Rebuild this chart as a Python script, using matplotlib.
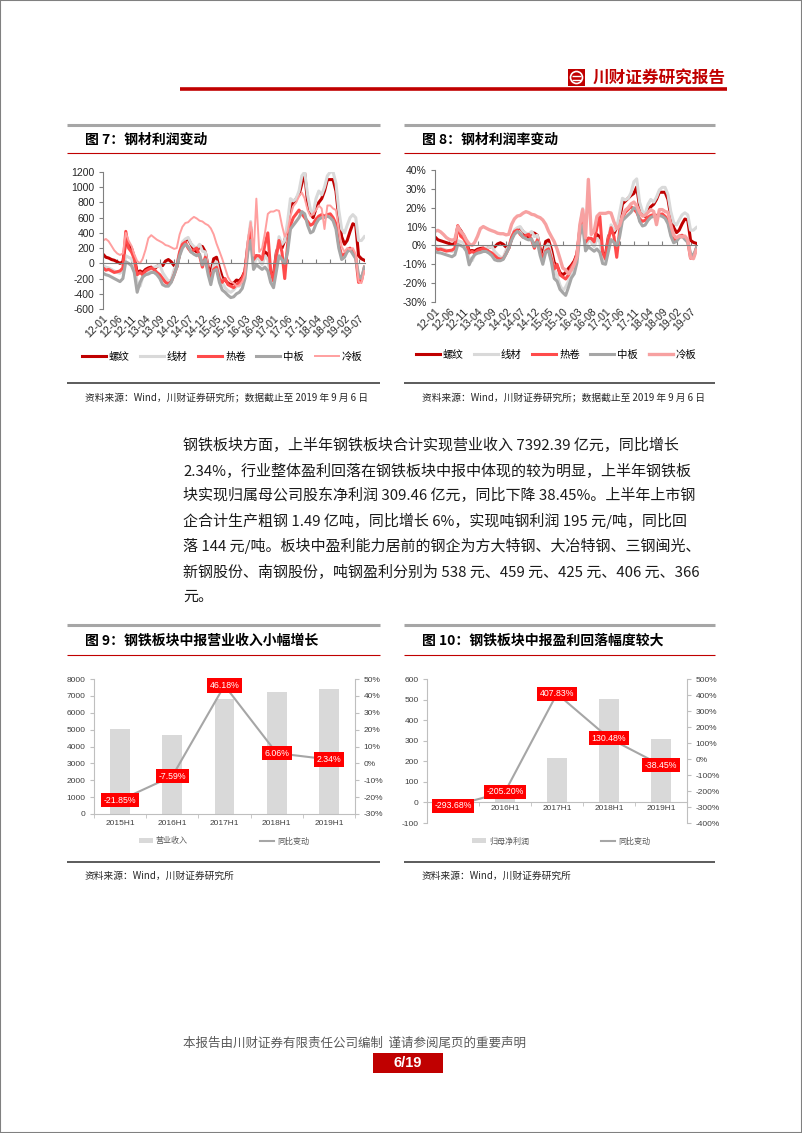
import numpy as np
import pandas as pd
import matplotlib
matplotlib.use("Agg")
import matplotlib.pyplot as plt
from matplotlib.lines import Line2D
from matplotlib.patches import Rectangle, Ellipse, Patch
from matplotlib.transforms import blended_transform_factory

plt.rcParams['font.family'] = ['Noto Sans CJK SC', 'DejaVu Sans']

W, H = 802, 1133
NUM_FONT = 'Liberation Sans'

# ======== data: monthly steel profit (yuan/t), 2012-01 .. 2019-09 ======== #
months = pd.date_range("2012-01-01", periods=93, freq="MS")
tick_labels = ["12-01", "12-06", "12-11", "13-04", "13-09", "14-02", "14-07", "14-12",
               "15-05", "15-10", "16-03", "16-08", "17-01", "17-06", "17-11", "18-04",
               "18-09", "19-02", "19-07"]
names = ["螺纹", "线材", "热卷", "中板", "冷板"]

rebar_profit = [120, 80, 70, 50, 40, 20, 0, 20, 280, 250, 200, 80,
                -120, -100, -120, -80, -60, -50, -80, -40, -20, -30, 30, 50,
                20, -30, -50, 120, 250, 300, 320, 250, 180, 150, 230, 220,
                150, -50, -120, 60, 80, -60, -180, -220, -260, -280, -260, -220,
                -230, -180, -100, 250, 480, 30, 100, 60, 40, 150, 120, -120,
                -150, 150, 250, 200, 300, 450, 750, 800, 850, 900, 1050, 1180,
                800, 650, 600, 720, 800, 850, 950, 1100, 1100, 1100, 950, 600,
                350, 250, 300, 420, 520, 500, 100, 60, 40]
wire_profit = [-30, -50, -60, -80, -100, -120, -130, -100, 100, 80, 60, -20,
               -250, -300, -180, -120, -100, -80, -50, -40, -20, -120, -180, -230,
               -220, -80, -20, 150, 280, 320, 340, 260, 220, 200, 250, 160,
               150, -100, -220, -20, 20, -150, -250, -320, -360, -380, -350, -300,
               -300, -250, -150, 250, 550, -50, 80, 50, -20, 100, 50, -200,
               -250, 100, 350, 250, 300, 550, 850, 820, 850, 950, 1150, 1200,
               900, 700, 650, 850, 950, 900, 1000, 1150, 1200, 1200, 1050, 700,
               450, 400, 500, 600, 640, 600, 300, 300, 350]
hot_profit = [-60, -90, -80, -100, -120, -110, -100, -60, 420, 200, 150, 60,
              -150, -120, -150, -100, -80, -60, -80, -120, -150, -200, -250, -270,
              -240, -150, -50, 150, 250, 280, 200, 150, 180, 200, 100, -50,
              80, -100, -200, -80, -50, -200, -250, -200, -280, -300, -320, -280,
              -250, -200, -100, 200, 450, 50, 100, 100, 50, 250, 400, -100,
              -230, 100, 300, 150, -200, 250, 500, 600, 650, 700, 650, 600,
              550, 500, 520, 580, 620, 640, 620, 640, 650, 600, 520, 250,
              100, 120, 180, 200, 150, 80, -250, -230, -50]
plate_profit = [-130, -150, -160, -180, -200, -220, -240, -200, 20, 0, -30, -120,
                -380, -250, -180, -150, -140, -120, -120, -150, -200, -280, -300, -300,
                -250, -150, -50, 100, 200, 250, 220, 150, 120, 100, 120, -20,
                50, -150, -280, -100, -80, -250, -350, -380, -420, -450, -440, -400,
                -380, -330, -200, 150, 300, -80, -20, -50, -80, -50, -100, -250,
                -320, -100, 100, 50, 0, 150, 450, 500, 550, 600, 680, 650,
                500, 400, 420, 520, 580, 600, 600, 620, 600, 560, 450, 200,
                50, 80, 150, 180, 120, 60, -150, -200, -50]
cold_profit = [300, 320, 290, 230, 170, 130, 110, 130, 400, 300, 230, 120,
               30, 0, 60, 180, 330, 370, 340, 310, 290, 270, 240, 230,
               210, 190, 200, 380, 480, 530, 540, 580, 610, 590, 560, 550,
               520, 500, 460, 380, 260, 160, 60, -60, -180, -240, -260, -300,
               -290, -240, -150, 300, 540, 100, 850, 150, 200, 400, 650, 680,
               680, 700, 690, 500, 350, 420, 620, 750, 800, 880, 930, 850,
               700, 620, 650, 700, 760, 720, 450, 760, 760, 720, 700, 450,
               220, 150, 200, 180, 200, 120, -240, -260, -100]

# ======== data: monthly steel profit rate (%) ======== #
rebar_rate = [4.5, 3, 2.5, 2, 1.5, 1, 0.5, 1, 10, 8, 5.5, 2.5,
              -3, -2.7, -3, -2, -1.6, -1.4, -2, -1, -0.5, -0.8, 0.8, 1.4,
              0.6, -0.9, -1.5, 3.5, 7.4, 8.8, 9.4, 7.4, 5.3, 4.4, 6.8, 6.5,
              5.4, -1.8, -4.3, 2.1, 2.9, -2.1, -9, -11, -14.4, -15.6, -14.4, -12.2,
              -10.5, -8.2, -4.5, 8.9, 17, 1.1, 3.8, 2.3, 1.5, 5.8, 4.6, -4.6,
              -4.7, 4.7, 7.8, 6.3, 9.4, 14, 22, 23.5, 25, 26.5, 27.6, 31,
              20.5, 16.7, 15.4, 18.5, 20.5, 21.8, 24.4, 28.2, 28.2, 28.2, 24.4, 15.4,
              9.5, 6.8, 8.1, 11.4, 14, 13.5, 2.7, 1.6, 1.1]
wire_rate = [-0.8, -1.3, -1.5, -2, -2.5, -3, -3.3, -2.5, 2.5, 2, 1.5, -0.5,
             -6.8, -8.1, -4.9, -3.2, -2.7, -2.2, -1.4, -1.1, -0.5, -3.2, -4.9, -6.2,
             -6.5, -2.4, -0.6, 4.4, 8.2, 9.4, 10, 7.6, 6.5, 5.9, 7.4, 4.7,
             5.4, -3.6, -7.9, -0.7, 0.7, -5.4, -12.5, -16, -21, -24, -22, -19,
             -15, -11, -6, 9, 19.6, -1.8, 3.1, 1.9, -0.8, 3.8, 1.9, -7.7,
             -7.8, 3.1, 10.9, 7.8, 9.4, 17.2, 25, 24.1, 25, 27.9, 33.8, 35.3,
             23, 18, 16.7, 21.8, 24.4, 23, 25.6, 29.5, 30.8, 30.8, 27, 18,
             12.2, 10.8, 13.5, 16.2, 17.3, 16.2, 8.1, 8.1, 9.5]
hot_rate = [-1.5, -2.2, -2, -2.5, -3, -2.7, -2.5, -1.5, 10.5, 5, 3.7, 1.5,
            -4, -3.2, -4, -2.7, -2.2, -1.6, -2.2, -3.2, -4, -5.4, -6.8, -7.3,
            -7, -4.4, -1.5, 4.4, 7.4, 8.2, 5.9, 4.4, 5.3, 5.9, 2.9, -1.5,
            2.9, -3.6, -7.1, -2.9, -1.8, -7.1, -12.5, -10, -15.6, -16.7, -17.8, -15.6,
            -11.4, -9.1, -4.5, 7.1, 16, 1.8, 3.8, 3.8, 1.9, 9.6, 15.4, -3.8,
            -7.2, 3.1, 9.4, 4.7, -6.3, 7.8, 14.7, 17.6, 19.1, 20.6, 19.1, 17.6,
            14.1, 12.8, 13.3, 14.9, 15.9, 16.4, 15.9, 16.4, 16.7, 15.4, 13.3, 6.4,
            2.7, 3.2, 4.9, 5.4, 4.1, 2.2, -6.8, -6.2, -1.4]
plate_rate = [-3.3, -3.8, -4, -4.5, -5, -5.5, -6, -5, 0.5, 0, -0.8, -3,
              -10.3, -6.8, -4.9, -4.1, -3.8, -3.2, -3.2, -4.1, -5.4, -7.6, -8.1, -8.1,
              -7.4, -4.4, -1.5, 2.9, 5.9, 7.4, 6.5, 4.4, 3.5, 2.9, 3.5, -0.6,
              1.8, -5.4, -10, -3.6, -2.9, -8.9, -17.5, -19, -23.3, -25, -26.5, -22.2,
              -17.3, -15, -9.1, 5.4, 10.7, -2.9, -0.8, -1.9, -3.1, -1.9, -3.8, -9.6,
              -10, -3.1, 3.1, 1.6, 0, 4.7, 13.2, 14.7, 16.2, 17.6, 20, 19.1,
              12.8, 10.3, 10.8, 13.3, 14.9, 15.4, 15.4, 15.9, 15.4, 14.4, 11.5, 5.1,
              1.4, 2.2, 4.1, 4.9, 3.2, 1.6, -4.1, -5.4, -1.4]
cold_rate = [7.5, 8, 7.2, 5.8, 4.2, 3.2, 2.8, 3.2, 10, 7.5, 5.8, 3,
             0.8, 0, 1.6, 4.9, 8.9, 10, 9.2, 8.4, 7.8, 7.3, 6.5, 6.2,
             6.2, 5.6, 5.9, 11.2, 14.1, 15.6, 15.9, 17.1, 17.9, 17.4, 16.5, 16.2,
             15.3, 14.7, 13.5, 11.2, 7.6, 4.7, 2, -2, -7, -12, -13, -15,
             -13, -10, -6, 11, 19, 4, 35, 5.8, 7.7, 15.4, 17, 17,
             17, 17.5, 17.2, 12.5, 9, 10.5, 15.5, 18.7, 20, 22, 23, 21,
             17.5, 15.5, 16, 17.5, 19, 18, 11, 19, 19, 18, 17.5, 11,
             5.5, 4, 5, 4.5, 5, 3, -6.5, -7, -2.5]

# ======== data: half-year sector results ======== #
halves = ["2015H1", "2016H1", "2017H1", "2018H1", "2019H1"]
revenue = [5042, 4659, 6811, 7223, 7392.39]          # 亿元
revenue_yoy = [-21.85, -7.59, 46.18, 6.06, 2.34]     # %
net_profit = [-40.9, 43.0, 218.2, 502.8, 309.46]     # 亿元
net_profit_yoy = [-293.68, -205.20, 407.83, 130.48, -38.45]

body_lines = [
    "钢铁板块方面，上半年钢铁板块合计实现营业收入 7392.39 亿元，同比增长",
    "2.34%，行业整体盈利回落在钢铁板块中报中体现的较为明显，上半年钢铁板",
    "块实现归属母公司股东净利润 309.46 亿元，同比下降 38.45%。上半年上市钢",
    "企合计生产粗钢 1.49 亿吨，同比增长 6%，实现吨钢利润 195 元/吨，同比回",
    "落 144 元/吨。板块中盈利能力居前的钢企为方大特钢、大冶特钢、三钢闽光、",
    "新钢股份、南钢股份，吨钢盈利分别为 538 元、459 元、425 元、406 元、366",
    "元。",
]

fig = plt.figure(figsize=(W / 100, H / 100), dpi=100)
fig.patch.set_facecolor("white")


def px_axes(x0, y0, x1, y1):
    return fig.add_axes([x0 / W, 1 - y1 / H, (x1 - x0) / W, (y1 - y0) / H])


def hline(x0, x1, y, color, lw):
    fig.add_artist(Line2D([x0 / W, x1 / W], [1 - y / H, 1 - y / H],
                          color=color, lw=lw, solid_capstyle="butt"))


def ftext(x, y, s, **kw):
    fig.text(x / W, 1 - y / H, s, **kw)


def panel_frame(x0, x1, y_top, y_red, y_bot, title, source):
    hline(x0, x1, y_top, "#A6A6A6", 2.2)
    hline(x0, x1, y_red, "#C00000", 0.8)
    hline(x0, x1, y_bot, "#404040", 1.2)
    ftext(x0 + 18, (y_top + y_red) / 2 + 1, title, fontsize=10, fontweight="bold",
          va="center", ha="left", color="#000000")
    ftext(x0 + 18, y_bot + 14, source, fontsize=7, style="italic",
          va="center", ha="left", color="#262626")


def ts_chart(ax, series, styles, ylim, yticks, ylabels, legend_xy):
    ax.spines["bottom"].set_position(("data", 0))
    for name, vals in zip(names, series):
        color, lw = styles[name]
        ax.plot(months, vals, color=color, lw=lw, label=name, solid_joinstyle="round")
    ax.set_xlim(months[0], pd.Timestamp("2019-09-08"))
    ax.set_ylim(*ylim)
    ax.set_yticks(yticks)
    ax.set_yticklabels(ylabels, fontsize=7.5, family=NUM_FONT, color="#262626")
    ax.spines[["top", "right"]].set_visible(False)
    ax.spines["left"].set_color("#808080")
    ax.spines["bottom"].set_color("#808080")
    tick_dates = [pd.Timestamp("20" + lab + "-01") for lab in tick_labels]
    ax.set_xticks(tick_dates)
    ax.set_xticklabels([])
    ax.tick_params(axis="x", direction="in", length=3, color="#808080")
    ax.tick_params(axis="y", direction="out", length=3, color="#808080", pad=3)
    trans = blended_transform_factory(ax.transData, ax.transAxes)
    for d, lab in zip(tick_dates, tick_labels):
        ax.text(d, -0.035, lab, transform=trans, rotation=45, ha="right", va="top",
                rotation_mode="anchor", fontsize=7.5, family=NUM_FONT, color="#262626")
    ax.legend(loc="center", bbox_to_anchor=(legend_xy[0] / W, 1 - legend_xy[1] / H),
              bbox_transform=fig.transFigure, ncol=5, frameon=False, fontsize=7.5,
              handlelength=2.3, handletextpad=0.3, columnspacing=1.0)


def bar_chart(ax, bars, growth, ylim, yticks, ylim2, yticks2, legend_names,
              legend_xy, zero_axis):
    if zero_axis:
        ax.spines["bottom"].set_position(("data", 0))
    x = np.arange(len(halves))
    ax.bar(x, bars, width=0.38, color="#D9D9D9", zorder=1)
    ax.set_xlim(-0.5, len(halves) - 0.5)
    ax.set_ylim(*ylim)
    ax.set_yticks(yticks)
    ax.set_yticklabels([f"{v:g}" for v in yticks], fontsize=6, family=NUM_FONT,
                       color="#404040")
    ax.set_xticks(x)
    ax.set_xticklabels(halves, fontsize=6, family=NUM_FONT, color="#404040")
    ax.set_xticks(np.arange(-0.5, len(halves)), minor=True)
    ax.tick_params(axis="x", which="major", length=0, pad=2 if zero_axis else 4)
    ax.tick_params(axis="x", which="minor", length=3, color="#BFBFBF", direction="out")
    ax.tick_params(axis="y", length=3, color="#BFBFBF", pad=3)
    ax.spines[["top", "right"]].set_visible(False)
    for s in ("left", "bottom"):
        ax.spines[s].set_color("#BFBFBF")

    ax2 = ax.twinx()
    ax2.plot(x, growth, color="#A6A6A6", lw=1.5)
    ax2.set_ylim(*ylim2)
    ax2.set_yticks(yticks2)
    ax2.set_yticklabels([f"{v:g}%" for v in yticks2], fontsize=6, family=NUM_FONT,
                        color="#404040")
    ax2.tick_params(axis="y", length=3, color="#BFBFBF", pad=3)
    ax2.spines[["top", "left", "bottom"]].set_visible(False)
    ax2.spines["right"].set_color("#BFBFBF")
    for xi, g in zip(x, growth):
        ax2.text(xi, g, f"{g:.2f}%", ha="center", va="center", color="white",
                 fontsize=6.3, family=NUM_FONT, zorder=5,
                 bbox=dict(boxstyle="square,pad=0.3", fc="#FF0000", ec="none"))
    handles = [Patch(fc="#D9D9D9", ec="none"), Line2D([], [], color="#A6A6A6", lw=1.5)]
    leg = fig.legend(handles, legend_names, loc="center",
                     bbox_to_anchor=(legend_xy[0] / W, 1 - legend_xy[1] / H),
                     ncol=2, frameon=False, fontsize=5.8, handlelength=1.7,
                     handleheight=0.5, handletextpad=0.4, columnspacing=9.0)
    for t in leg.get_texts():
        t.set_color("#595959")


# ======== page frame and header ======== #
fig.add_artist(Rectangle((0, 0), 1, 1, transform=fig.transFigure, fill=False,
                         ec="#808080", lw=1.5))
hline(180, 727, 89, "#C00000", 2.6)
fig.add_artist(Rectangle((568 / W, 1 - 86 / H), 17 / W, 17 / H,
                         transform=fig.transFigure, fc="#C00000", ec="none"))
fig.add_artist(Ellipse((576.5 / W, 1 - 77.5 / H), 12 / W, 12 / H,
                       transform=fig.transFigure, fc="none", ec="white", lw=1.2))
hline(572, 581, 76, "white", 1.0)
hline(572, 581, 79.5, "white", 1.0)
ftext(593, 78, "川财证券研究报告", color="#C00000", fontsize=12, fontweight="bold",
      va="center", ha="left")

# ======== chart frames ======== #
src_long = "资料来源：Wind，川财证券研究所；数据截止至 2019 年 9 月 6 日"
src_short = "资料来源：Wind，川财证券研究所"
panel_frame(67, 380, 124.5, 152.5, 383, "图 7：钢材利润变动", src_long)
panel_frame(404, 715, 124.5, 152.5, 383, "图 8：钢材利润率变动", src_long)
panel_frame(67, 380, 624.5, 654.5, 862, "图 9：钢铁板块中报营业收入小幅增长", src_short)
panel_frame(404, 715, 624.5, 654.5, 862, "图 10：钢铁板块中报盈利回落幅度较大", src_short)

# ======== chart 7: profit ======== #
styles7 = {"螺纹": ("#C00000", 2.2), "线材": ("#D9D9D9", 2.2), "热卷": ("#FF4B4B", 2.2),
           "中板": ("#A6A6A6", 2.2), "冷板": ("#FF9F9F", 1.4)}
ax7 = px_axes(103, 172, 365, 309)
ts_chart(ax7, [rebar_profit, wire_profit, hot_profit, plate_profit, cold_profit],
         styles7, (-600, 1200), list(range(-600, 1201, 200)),
         [str(v) for v in range(-600, 1201, 200)], (222, 357))

# ======== chart 8: profit rate ======== #
styles8 = {"螺纹": ("#C00000", 2.2), "线材": ("#D9D9D9", 2.2), "热卷": ("#FF4B4B", 2.2),
           "中板": ("#A6A6A6", 2.2), "冷板": ("#F7A1A1", 2.4)}
ax8 = px_axes(435, 170, 697, 302)
ts_chart(ax8, [rebar_rate, wire_rate, hot_rate, plate_rate, cold_rate],
         styles8, (-30, 40), list(range(-30, 41, 10)),
         [f"{v}%" for v in range(-30, 41, 10)], (556, 355))

# ======== body text ======== #
for i, line in enumerate(body_lines):
    ftext(183, 445 + i * 25.3, line, fontsize=10.8, va="center", ha="left",
          color="#1a1a1a")

# ======== chart 9: revenue ======== #
ax9 = px_axes(94, 679, 355, 814)
bar_chart(ax9, revenue, revenue_yoy, (0, 8000), list(range(0, 8001, 1000)),
          (-30, 50), list(range(-30, 51, 10)), ["营业收入", "同比变动"],
          (224, 841), zero_axis=False)

# ======== chart 10: net profit ======== #
ax10 = px_axes(427, 679, 687, 823)
bar_chart(ax10, net_profit, net_profit_yoy, (-100, 600), list(range(-100, 601, 100)),
          (-400, 500), list(range(-400, 501, 100)), ["归母净利润", "同比变动"],
          (561, 841), zero_axis=True)

# ======== footer ======== #
ftext(183, 1043, "本报告由川财证券有限责任公司编制  谨请参阅尾页的重要声明",
      fontsize=9, color="#595959", va="center", ha="left")
fig.add_artist(Rectangle((373 / W, 1 - 1073 / H), 70 / W, 20 / H,
                         transform=fig.transFigure, fc="#C00000", ec="none"))
ftext(408, 1063, "6/19", color="white", fontsize=10.5, fontweight="bold",
      family=NUM_FONT, ha="center", va="center")

fig.savefig("out.png", dpi=100)
